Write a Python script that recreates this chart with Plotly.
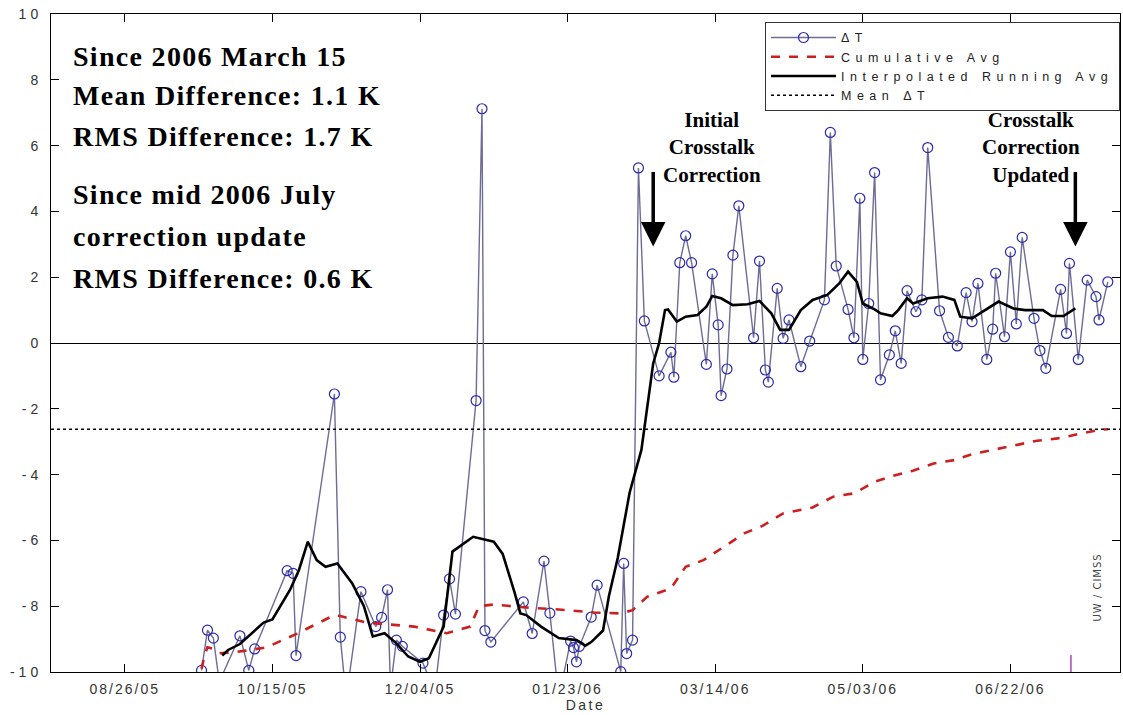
import plotly.graph_objects as go

# ---------------- data ----------------
dt_dates = [
    "2005-09-21", "2005-09-23", "2005-09-25", "2005-09-27", "2005-10-04", "2005-10-07", "2005-10-09",
    "2005-10-20", "2005-10-22", "2005-10-23", "2005-11-05", "2005-11-07", "2005-11-09", "2005-11-14",
    "2005-11-19", "2005-11-21", "2005-11-23", "2005-11-24", "2005-11-26", "2005-11-28", "2005-12-05",
    "2005-12-09", "2005-12-12", "2005-12-14", "2005-12-16", "2005-12-23", "2005-12-25", "2005-12-26",
    "2005-12-28", "2006-01-08", "2006-01-11", "2006-01-15", "2006-01-17", "2006-01-20", "2006-01-24",
    "2006-01-25", "2006-01-26", "2006-01-27", "2006-01-31", "2006-02-02", "2006-02-10", "2006-02-11",
    "2006-02-12", "2006-02-14", "2006-02-16", "2006-02-18", "2006-02-23", "2006-02-27", "2006-02-28",
    "2006-03-02", "2006-03-04", "2006-03-06", "2006-03-11", "2006-03-13", "2006-03-15", "2006-03-16",
    "2006-03-18", "2006-03-20", "2006-03-22", "2006-03-27", "2006-03-29", "2006-03-31", "2006-04-01",
    "2006-04-04", "2006-04-06", "2006-04-08", "2006-04-12", "2006-04-15", "2006-04-20", "2006-04-22",
    "2006-04-24", "2006-04-28", "2006-04-30", "2006-05-02", "2006-05-03", "2006-05-05", "2006-05-07",
    "2006-05-09", "2006-05-12", "2006-05-14", "2006-05-16", "2006-05-18", "2006-05-21", "2006-05-23",
    "2006-05-25", "2006-05-29", "2006-06-01", "2006-06-04", "2006-06-07", "2006-06-09", "2006-06-11",
    "2006-06-14", "2006-06-16", "2006-06-17", "2006-06-20", "2006-06-22", "2006-06-24", "2006-06-26",
    "2006-06-30", "2006-07-02", "2006-07-04", "2006-07-09", "2006-07-11", "2006-07-12", "2006-07-15",
    "2006-07-18", "2006-07-21", "2006-07-22", "2006-07-25",
]
dt_values = [
    -9.95, -8.73, -8.97, -10.3, -8.9, -9.95, -9.3,
    -6.92, -7.0, -9.5, -1.55, -8.94, -10.8, -7.56,
    -8.62, -8.34, -7.5, -10.5, -9.03, -9.22, -9.73,
    -10.6, -8.27, -7.17, -8.24, -1.75, 7.12, -8.74,
    -9.09, -7.87, -8.83, -6.63, -8.21, -10.8, -9.06,
    -9.26, -9.69, -9.22, -8.33, -7.36, -9.99, -6.7,
    -9.44, -9.03, 5.32, 0.67, -1.0, -0.28, -1.04,
    2.44, 3.26, 2.44, -0.65, 2.1, 0.55, -1.6,
    -0.79, 2.67, 4.17, 0.16, 2.49, -0.82, -1.19,
    1.66, 0.14, 0.7, -0.72, 0.06, 1.31, 6.4,
    2.34, 1.02, 0.16, 4.4, -0.5, 1.2, 5.18,
    -1.12, -0.36, 0.37, -0.62, 1.59, 0.95, 1.31,
    5.94, 0.98, 0.17, -0.09, 1.53, 0.65, 1.81,
    -0.5, 0.42, 2.12, 0.19, 2.77, 0.58, 3.21,
    0.75, -0.23, -0.77, 1.63, 0.29, 2.42, -0.5,
    1.91, 1.41, 0.7, 1.86,
]

cum_dates = [
    "2005-09-21", "2005-09-22", "2005-09-23", "2005-09-25", "2005-09-27", "2005-10-02", "2005-10-06",
    "2005-10-13", "2005-10-23", "2005-10-31", "2005-11-05", "2005-11-07", "2005-11-16", "2005-11-24",
    "2005-12-02", "2005-12-13", "2005-12-21", "2005-12-24", "2005-12-29", "2006-01-09", "2006-01-20",
    "2006-02-01", "2006-02-10", "2006-02-14", "2006-02-19", "2006-02-27", "2006-03-04", "2006-03-10",
    "2006-03-16", "2006-03-24", "2006-03-30", "2006-04-06", "2006-04-16", "2006-04-23", "2006-04-30",
    "2006-05-07", "2006-05-13", "2006-05-20", "2006-05-27", "2006-06-03", "2006-06-09", "2006-06-16",
    "2006-06-23", "2006-07-01", "2006-07-08", "2006-07-16", "2006-07-22", "2006-07-25",
]
cum_values = [
    -9.9, -9.5, -9.25, -9.3, -9.43, -9.4, -9.35,
    -9.25, -8.85, -8.5, -8.27, -8.3, -8.5, -8.56,
    -8.62, -8.82, -8.62, -8.0, -7.95, -8.04, -8.1,
    -8.19, -8.22, -8.12, -7.71, -7.46, -6.8, -6.6,
    -6.24, -5.78, -5.56, -5.18, -5.0, -4.67, -4.57,
    -4.22, -4.04, -3.88, -3.66, -3.56, -3.38, -3.25,
    -3.1, -2.97, -2.9, -2.75, -2.64, -2.62,
]

run_dates = [
    "2005-09-28", "2005-09-30", "2005-10-04", "2005-10-12", "2005-10-15", "2005-10-21", "2005-10-24",
    "2005-10-27", "2005-10-30", "2005-11-02", "2005-11-06", "2005-11-11", "2005-11-15", "2005-11-18",
    "2005-11-22", "2005-11-26", "2005-11-30", "2005-12-04", "2005-12-07", "2005-12-12", "2005-12-15",
    "2005-12-18", "2005-12-22", "2005-12-29", "2006-01-01", "2006-01-05", "2006-01-07", "2006-01-09",
    "2006-01-14", "2006-01-20", "2006-01-26", "2006-01-29", "2006-01-31", "2006-02-04", "2006-02-06",
    "2006-02-09", "2006-02-13", "2006-02-17", "2006-02-19", "2006-02-21", "2006-02-23", "2006-02-25",
    "2006-02-26", "2006-03-01", "2006-03-04", "2006-03-08", "2006-03-11", "2006-03-13", "2006-03-16",
    "2006-03-20", "2006-03-25", "2006-03-29", "2006-04-02", "2006-04-05", "2006-04-08", "2006-04-12",
    "2006-04-16", "2006-04-21", "2006-04-25", "2006-04-28", "2006-05-01", "2006-05-03", "2006-05-07",
    "2006-05-09", "2006-05-13", "2006-05-15", "2006-05-18", "2006-05-20", "2006-05-25", "2006-05-30",
    "2006-06-03", "2006-06-05", "2006-06-09", "2006-06-14", "2006-06-18", "2006-06-23", "2006-06-27",
    "2006-07-03", "2006-07-06", "2006-07-10", "2006-07-14",
]
run_values = [
    -9.5, -9.33, -9.15, -8.5, -8.4, -7.5, -6.9,
    -6.04, -6.6, -6.8, -6.7, -7.3, -8.0, -8.92,
    -8.82, -9.13, -9.53, -9.69, -9.58, -8.62, -6.34,
    -6.14, -5.89, -6.04, -6.41, -7.57, -8.22, -8.27,
    -8.62, -8.97, -9.03, -9.2, -9.09, -8.74, -7.69,
    -6.53, -4.55, -3.25, -1.9, -0.62, 0.0, 1.0,
    1.02, 0.65, 0.8, 0.85, 1.1, 1.43, 1.36,
    1.15, 1.18, 1.28, 0.9, 0.4, 0.4, 1.0,
    1.31, 1.46, 1.81, 2.17, 1.86, 1.2, 1.02,
    0.9, 0.82, 1.0, 1.36, 1.2, 1.36, 1.41,
    1.31, 0.8, 0.75, 1.02, 1.26, 1.05, 1.0,
    1.0, 0.82, 0.82, 1.05,
]

mean_dt = -2.62

x_range = ["2005-08-01", "2006-07-29 03:00"]
x_tick_dates = ["2005-08-26", "2005-10-15", "2005-12-04", "2006-01-23", "2006-03-14", "2006-05-03", "2006-06-22"]
x_tick_labels = ["08/26/05", "10/15/05", "12/04/05", "01/23/06", "03/14/06", "05/03/06", "06/22/06"]
y_tick_vals = [-10, -8, -6, -4, -2, 0, 2, 4, 6, 8, 10]
y_tick_labels = ["-10", "-8", "-6", "-4", "-2", "0", "2", "4", "6", "8", "10"]

legend_names = ["ΔT", "Cumulative Avg", "Interpolated Running Avg", "Mean ΔT"]

stats_lines = [
    "Since 2006 March 15",
    "Mean Difference: 1.1 K",
    "RMS Difference: 1.7 K",
    "Since mid 2006 July",
    "correction update",
    "RMS Difference: 0.6 K",
]
stats_y = [0.935, 0.876, 0.814, 0.726, 0.662, 0.598]

event_dates = ["2006-02-21", "2006-07-14"]
event_text_dates = ["2006-03-13", "2006-06-29"]
event_labels = ["Initial<br>Crosstalk<br>Correction", "Crosstalk<br>Correction<br>Updated"]


def spaced(txt, px):
    return '<span style="letter-spacing:%spx">%s</span>' % (px, txt)


# ---------------- figure ----------------
fig = go.Figure()

fig.add_trace(go.Scatter(
    x=dt_dates, y=dt_values, mode="lines+markers", name=spaced(legend_names[0], 5.5),
    line=dict(color="#6c6c96", width=1.4),
    marker=dict(symbol="circle-open", size=10, color="#2a2ab0", line=dict(width=1.2)),
))
fig.add_trace(go.Scatter(
    x=cum_dates, y=cum_values, mode="lines", name=spaced(legend_names[1], 5.5),
    line=dict(color="#cc1f1f", width=2.6, dash="dash"),
))
fig.add_trace(go.Scatter(
    x=run_dates, y=run_values, mode="lines", name=spaced(legend_names[2], 5.5),
    line=dict(color="black", width=2.6),
))
fig.add_trace(go.Scatter(
    x=x_range, y=[mean_dt, mean_dt], mode="lines", name=spaced(legend_names[3], 5.5),
    line=dict(color="black", width=1.6, dash="dot"),
))

serif = "Liberation Serif, Times New Roman, serif"
for txt, yy in zip(stats_lines, stats_y):
    fig.add_annotation(
        xref="paper", yref="paper", x=0.0185, y=yy, xanchor="left", yanchor="middle",
        text="<b>" + spaced(txt, 1.3) + "</b>", showarrow=False,
        font=dict(family=serif, size=28, color="black"),
    )

for ed, td, lab in zip(event_dates, event_text_dates, event_labels):
    fig.add_annotation(
        x=td, y=5.93, xref="x", yref="y", text="<b>" + lab + "</b>", showarrow=False,
        font=dict(family=serif, size=21, color="black"), align="center",
    )
    fig.add_annotation(
        x=ed, y=2.93, xref="x", yref="y", text="", showarrow=True,
        ax=0, ay=-76, arrowhead=2, arrowsize=1.4, arrowwidth=3.5, arrowcolor="black",
    )

fig.add_annotation(
    xref="paper", yref="paper", x=0.986, y=0.073, text=spaced("UW / CIMSS", 1), textangle=-90,
    showarrow=False, font=dict(family="DejaVu Sans", size=10, color="#444"),
)

fig.add_shape(type="line", xref="x", yref="y", x0="2006-07-12 12:00", x1="2006-07-12 12:00",
              y0=-10, y1=-9.48, line=dict(color="#b040c0", width=1.5))

axis_font = dict(family="Liberation Sans, Arial, sans-serif", size=14, color="#333")
fig.update_xaxes(
    type="date", range=x_range, tickvals=x_tick_dates,
    ticktext=[spaced(t, 2) for t in x_tick_labels],
    ticks="inside", ticklen=8, tickcolor="black", tickwidth=1,
    showline=True, linecolor="black", linewidth=1, mirror="ticks",
    showgrid=False, zeroline=False, tickfont=axis_font, ticklabelstandoff=4,
    title=dict(text=spaced("Date", 2.5), font=axis_font, standoff=3),
)
fig.update_yaxes(
    range=[-10, 10], tickvals=y_tick_vals,
    ticktext=[spaced(t, 4) for t in y_tick_labels],
    ticks="inside", ticklen=8, tickcolor="black", tickwidth=1,
    showline=True, linecolor="black", linewidth=1, mirror="ticks",
    showgrid=False, zeroline=True, zerolinecolor="black", zerolinewidth=1,
    tickfont=axis_font, ticklabelstandoff=5,
)

fig.update_layout(
    width=1123, height=715,
    margin=dict(l=51, r=3, t=14, b=43),
    plot_bgcolor="white", paper_bgcolor="white",
    showlegend=True,
    legend=dict(
        x=1.0, y=0.988, xanchor="right", yanchor="top",
        bgcolor="white", bordercolor="#333", borderwidth=1,
        font=dict(family="Liberation Sans, Arial, sans-serif", size=12.5, color="#222"),
        itemwidth=65, tracegroupgap=0,
    ),
)

fig.write_html("out.html", config={"displayModeBar": False},
               post_script="document.body.style.margin='0';")
